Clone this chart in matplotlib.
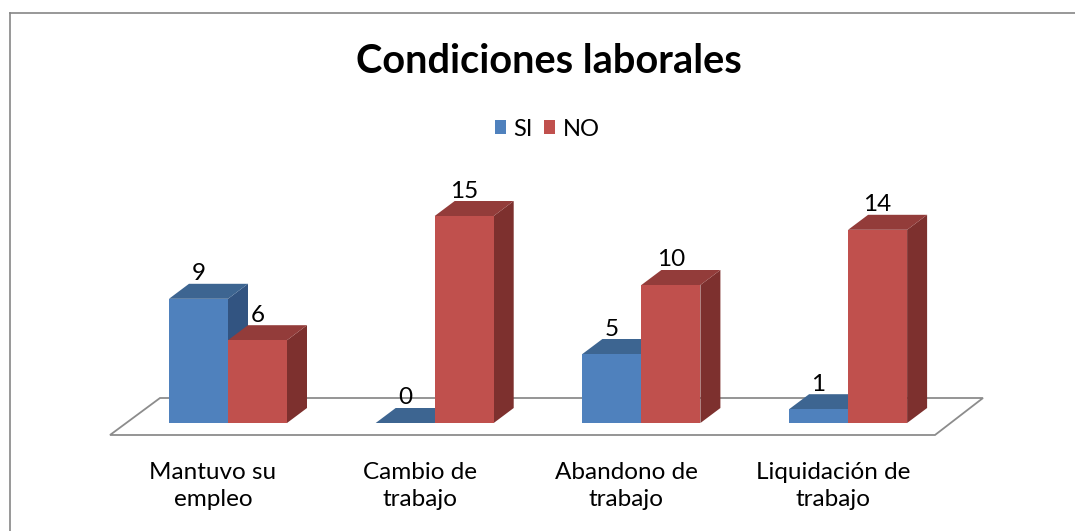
import matplotlib
matplotlib.use('Agg')
import matplotlib.pyplot as plt
from matplotlib.patches import Polygon, Patch
from matplotlib.lines import Line2D

# ---------------- data ----------------
title = "Condiciones laborales"
categories = ["Mantuvo su\nempleo", "Cambio de\ntrabajo", "Abandono de\ntrabajo", "Liquidación de\ntrabajo"]
series_names = ["SI", "NO"]
si_values = [9, 0, 5, 1]
no_values = [6, 15, 10, 14]

# ---------------- style ----------------
front_colors = ["#4F81BD", "#C0504D"]
top_colors = ["#3D6591", "#933C3A"]
side_colors = ["#325481", "#7D302E"]

plt.rcParams['font.family'] = ['Lato', 'DejaVu Sans']

W, H, DPI = 1075, 531, 100
fig = plt.figure(figsize=(W / DPI, H / DPI), dpi=DPI)
fig.patch.set_facecolor('white')

group_px = 206.7   # pixels per category
unit_px = 13.8     # pixels per value unit
x0_px = 228        # pixel x of first group center
base_px = 423      # pixel y (from top) of value 0
left_px = x0_px - 0.5 * group_px
ax = fig.add_axes([left_px / W, (H - base_px) / H, 4 * group_px / W, 20 * unit_px / H])
ax.set_xlim(-0.5, 3.5)
ax.set_ylim(0, 20)
ax.axis('off')

bar_w = 59 / group_px
dx = 20 / group_px
dy = 15 / unit_px

# floor
fl_front = -12 / unit_px
fl_back = 25 / unit_px
floor = Polygon([((110 - x0_px) / group_px, fl_front), ((160 - x0_px) / group_px, fl_back),
                 ((983 - x0_px) / group_px, fl_back), ((935 - x0_px) / group_px, fl_front)],
                closed=True, facecolor='white', edgecolor='#8C8C8C', linewidth=1.3,
                clip_on=False, zorder=1)
ax.add_patch(floor)

z = 2
for i in range(len(categories)):
    for s, vals in enumerate([si_values, no_values]):
        v = vals[i]
        x0 = i - bar_w + s * bar_w
        x1 = x0 + bar_w
        front = Polygon([(x0, 0), (x0, v), (x1, v), (x1, 0)], closed=True,
                        facecolor=front_colors[s], edgecolor='none', clip_on=False, zorder=z)
        top = Polygon([(x0, v), (x0 + dx, v + dy), (x1 + dx, v + dy), (x1, v)], closed=True,
                      facecolor=top_colors[s], edgecolor='none', clip_on=False, zorder=z)
        side = Polygon([(x1, 0), (x1, v), (x1 + dx, v + dy), (x1 + dx, dy)], closed=True,
                       facecolor=side_colors[s], edgecolor='none', clip_on=False, zorder=z)
        for p in (side, top, front):
            ax.add_patch(p)
        z += 1
        ax.text((x0 + x1) / 2, v + dy + 3.5 / unit_px, str(v), ha='center', va='baseline',
                fontsize=17.5, color='black', zorder=50, clip_on=False)

# category labels
for i, c in enumerate(categories):
    ax.text(i - 15 / group_px, (base_px - 486) / unit_px, c, ha='center', va='center',
            fontsize=17.5, linespacing=1.38, color='black', clip_on=False)

# title
fig.text(549 / W, 1 - 73 / H, title, ha='center', va='baseline', fontsize=28.6,
         fontweight='bold', color='black')

# legend
handles = [Patch(facecolor=front_colors[k], edgecolor='none') for k in range(2)]
fig.legend(handles, series_names, loc='center', bbox_to_anchor=(547 / W, 1 - 129 / H),
           ncol=2, frameon=False, fontsize=17, handlelength=0.5, handleheight=0.5,
           handletextpad=0.3, columnspacing=0.45)

# outer border (top and left visible)
fig.add_artist(Line2D([10 / W, 1], [1 - 12.5 / H, 1 - 12.5 / H], transform=fig.transFigure,
                      color='#868686', linewidth=1.2))
fig.add_artist(Line2D([10 / W, 10 / W], [0, 1 - 12.5 / H], transform=fig.transFigure,
                      color='#868686', linewidth=1.2))

fig.savefig('out.png', dpi=DPI)
